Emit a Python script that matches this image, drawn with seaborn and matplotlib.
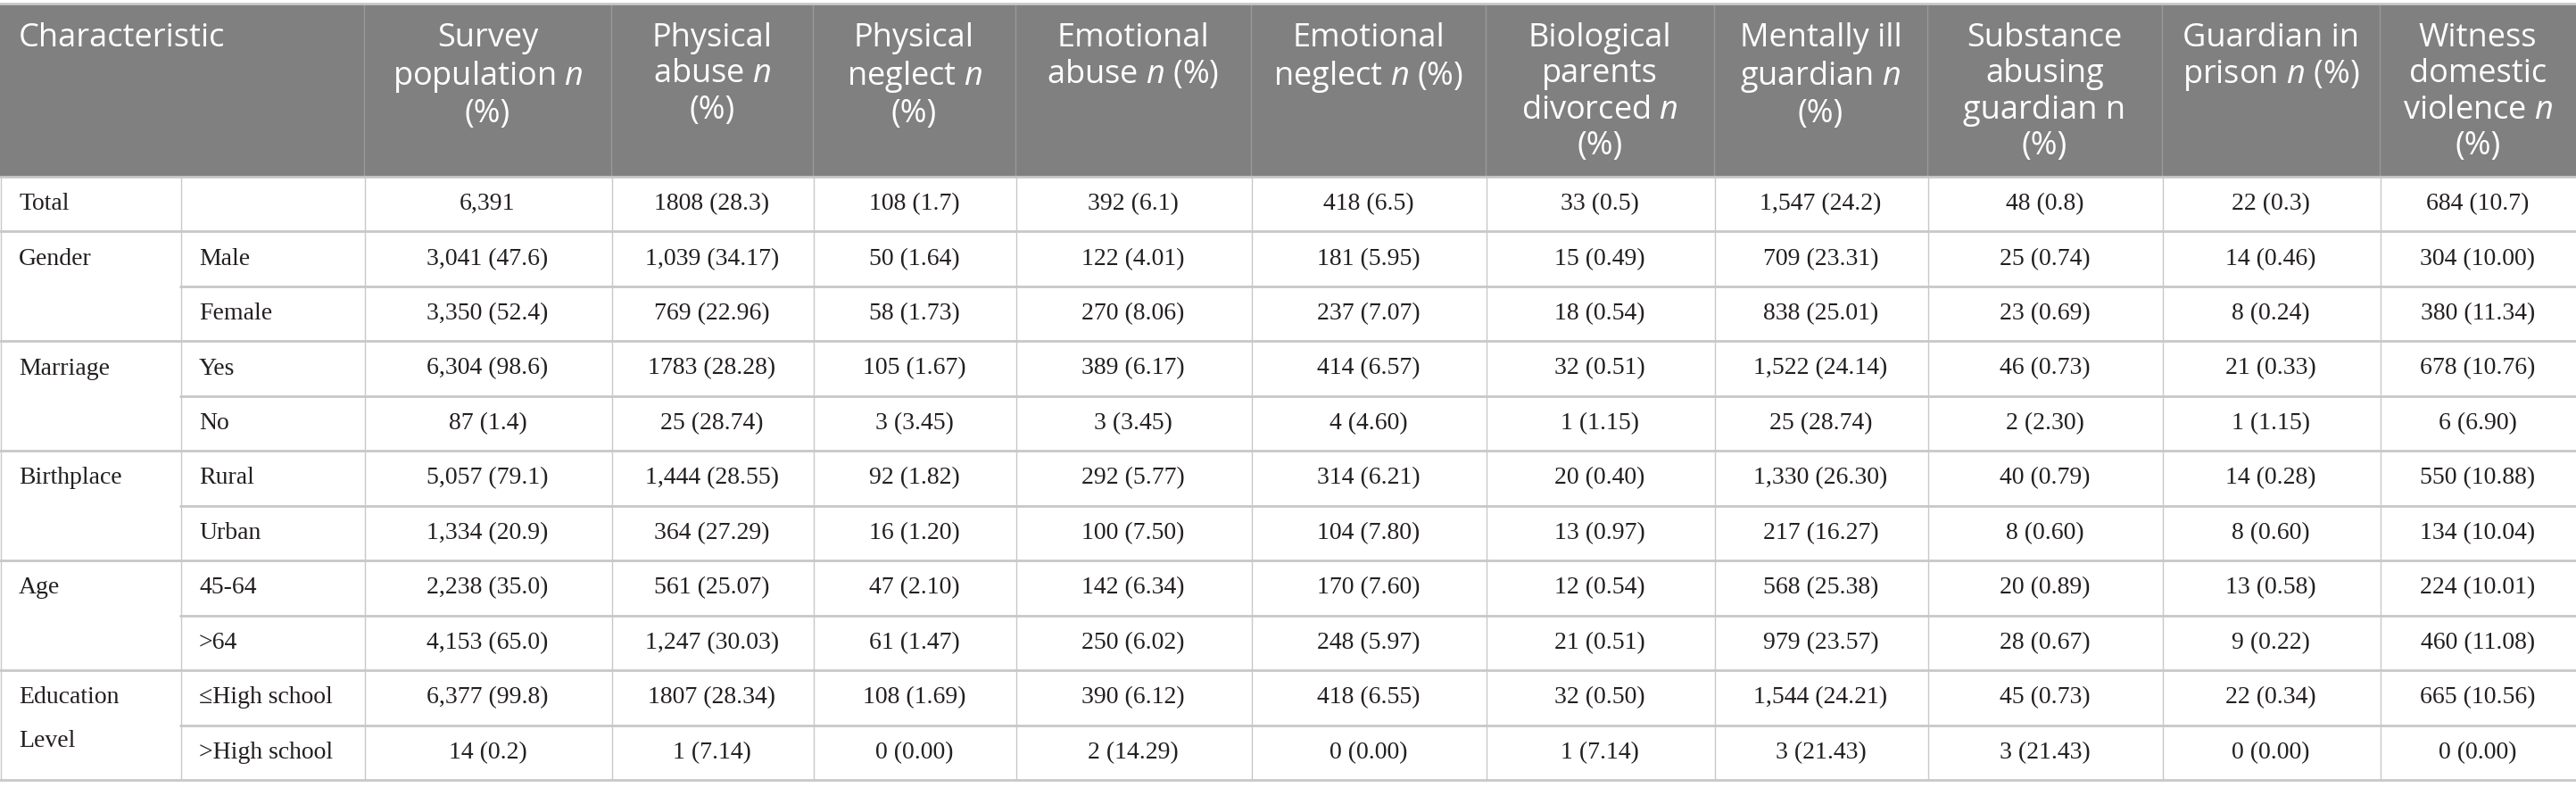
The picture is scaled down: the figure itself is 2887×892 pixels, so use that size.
import matplotlib
matplotlib.use("Agg")
import matplotlib.pyplot as plt
import seaborn as sns

# table content
headers = [
    "Survey\npopulation $n$\n(%)",
    "Physical\nabuse $n$\n(%)",
    "Physical\nneglect $n$\n(%)",
    "Emotional\nabuse $n$ (%)",
    "Emotional\nneglect $n$ (%)",
    "Biological\nparents\ndivorced $n$\n(%)",
    "Mentally ill\nguardian $n$\n(%)",
    "Substance\nabusing\nguardian n\n(%)",
    "Guardian in\nprison $n$ (%)",
    "Witness\ndomestic\nviolence $n$\n(%)",
]
groups = ["Total", "Gender", "Marriage", "Birthplace", "Age", "Education\nLevel"]
group_sizes = [1, 2, 2, 2, 2, 2]
subgroups = ["", "Male", "Female", "Yes", "No", "Rural", "Urban",
             "45-64", ">64", "≤High school", ">High school"]

survey = ["6,391", "3,041 (47.6)", "3,350 (52.4)", "6,304 (98.6)", "87 (1.4)", "5,057 (79.1)",
          "1,334 (20.9)", "2,238 (35.0)", "4,153 (65.0)", "6,377 (99.8)", "14 (0.2)"]
phys_abuse = ["1808 (28.3)", "1,039 (34.17)", "769 (22.96)", "1783 (28.28)", "25 (28.74)", "1,444 (28.55)",
              "364 (27.29)", "561 (25.07)", "1,247 (30.03)", "1807 (28.34)", "1 (7.14)"]
phys_neglect = ["108 (1.7)", "50 (1.64)", "58 (1.73)", "105 (1.67)", "3 (3.45)", "92 (1.82)",
                "16 (1.20)", "47 (2.10)", "61 (1.47)", "108 (1.69)", "0 (0.00)"]
emo_abuse = ["392 (6.1)", "122 (4.01)", "270 (8.06)", "389 (6.17)", "3 (3.45)", "292 (5.77)",
             "100 (7.50)", "142 (6.34)", "250 (6.02)", "390 (6.12)", "2 (14.29)"]
emo_neglect = ["418 (6.5)", "181 (5.95)", "237 (7.07)", "414 (6.57)", "4 (4.60)", "314 (6.21)",
               "104 (7.80)", "170 (7.60)", "248 (5.97)", "418 (6.55)", "0 (0.00)"]
divorced = ["33 (0.5)", "15 (0.49)", "18 (0.54)", "32 (0.51)", "1 (1.15)", "20 (0.40)",
            "13 (0.97)", "12 (0.54)", "21 (0.51)", "32 (0.50)", "1 (7.14)"]
mental_ill = ["1,547 (24.2)", "709 (23.31)", "838 (25.01)", "1,522 (24.14)", "25 (28.74)", "1,330 (26.30)",
              "217 (16.27)", "568 (25.38)", "979 (23.57)", "1,544 (24.21)", "3 (21.43)"]
substance = ["48 (0.8)", "25 (0.74)", "23 (0.69)", "46 (0.73)", "2 (2.30)", "40 (0.79)",
             "8 (0.60)", "20 (0.89)", "28 (0.67)", "45 (0.73)", "3 (21.43)"]
prison = ["22 (0.3)", "14 (0.46)", "8 (0.24)", "21 (0.33)", "1 (1.15)", "14 (0.28)",
          "8 (0.60)", "13 (0.58)", "9 (0.22)", "22 (0.34)", "0 (0.00)"]
witness = ["684 (10.7)", "304 (10.00)", "380 (11.34)", "678 (10.76)", "6 (6.90)", "550 (10.88)",
           "134 (10.04)", "224 (10.01)", "460 (11.08)", "665 (10.56)", "0 (0.00)"]

columns = [survey, phys_abuse, phys_neglect, emo_abuse, emo_neglect,
           divorced, mental_ill, substance, prison, witness]

# layout (pixels)
W, H = 2887, 892
col_x = [0, 202, 408, 685, 911, 1138, 1402, 1665, 1921, 2160, 2423, 2667, 2887]
top, head_bot, row_h = 4, 198, 61.45
header_col = "#808080"
grid_col = "#c8c8c8"
body_font = dict(fontsize=20, family="Liberation Serif", color="#231f20", va="center")
head_font = dict(fontsize=26, family="Open Sans", color="white", va="top")

sns.set_theme(style="white")
plt.rcParams["mathtext.fontset"] = "custom"
plt.rcParams["mathtext.rm"] = "Open Sans"
plt.rcParams["mathtext.it"] = "Open Sans:italic"

fig = plt.figure(figsize=(W / 100, H / 100), dpi=100)
ax = fig.add_axes([0, 0, 1, 1])
ax.set_xlim(0, W)
ax.set_ylim(H, 0)
ax.axis("off")

n_rows = len(subgroups)
bottom = head_bot + n_rows * row_h

# header block
ax.add_patch(plt.Rectangle((0, top), W, head_bot - top, color=header_col, lw=0))
for x in col_x[2:-1]:
    ax.plot([x, x], [top, head_bot], color="#999999", lw=1)
ax.text(21, 25, "Characteristic", ha="left", **head_font)
for i, h in enumerate(headers):
    cx = (col_x[i + 2] + col_x[i + 3]) / 2
    ax.text(cx, 25, h, ha="center", linespacing=1.16, **head_font)

# grid lines
ax.plot([0, W], [top, top], color=grid_col, lw=2)
ax.plot([0, W], [head_bot, head_bot], color=grid_col, lw=2)
r = 0
for size in group_sizes:
    for k in range(size):
        y = head_bot + (r + 1) * row_h
        x0 = 0 if k == size - 1 else col_x[1]
        ax.plot([x0, W], [y, y], color=grid_col, lw=2)
        r += 1
for x in col_x[:-1]:
    ax.plot([x + 0.5, x + 0.5], [head_bot, bottom], color=grid_col, lw=1)

# group and subgroup labels
r = 0
for g, size in zip(groups, group_sizes):
    yc = head_bot + (r + 0.5) * row_h
    for j, line in enumerate(g.split("\n")):
        ax.text(21, yc + j * 49, line, ha="left", **body_font)
    r += size
for i, s in enumerate(subgroups):
    yc = head_bot + (i + 0.5) * row_h
    ax.text(col_x[1] + 21, yc, s, ha="left", **body_font)

# values
for c, vals in enumerate(columns):
    cx = (col_x[c + 2] + col_x[c + 3]) / 2
    for i, v in enumerate(vals):
        yc = head_bot + (i + 0.5) * row_h
        ax.text(cx, yc, v, ha="center", **body_font)

fig.savefig("out.png", dpi=100, facecolor="white")
